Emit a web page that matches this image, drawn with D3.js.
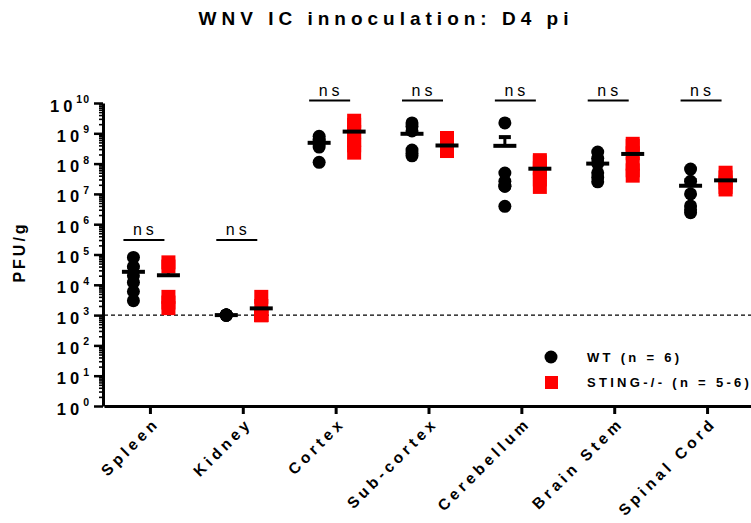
<!DOCTYPE html>
<html>
<head>
<meta charset="utf-8">
<script src="https://cdn.jsdelivr.net/npm/d3@7"></script>
<style>
  html, body { margin: 0; padding: 0; background: #fff; }
  svg { display: block; font-family: "Liberation Sans", Arial, sans-serif; }
</style>
</head>
<body>
<svg id="chart" width="751" height="523"></svg>
<script>
// Tissues sampled
const tissues = ["Spleen", "Kidney", "Cortex", "Sub-cortex", "Cerebellum", "Brain Stem", "Spinal Cord"];

// PFU/g per animal, wild type (n = 6)
const wtValues = [
  [8e4, 4e4, 2e4, 1.2e4, 6e3, 3e3],
  [1e3, 1e3, 1e3, 1e3, 1e3, 1e3],
  [8e8, 6.5e8, 5.5e8, 4.5e8, 3.5e8, 1.1e8],
  [2.2e9, 1.7e9, 1.2e9, 2.8e8, 2.2e8, 1.8e8],
  [2.2e9, 4.9e7, 2.6e7, 1.8e7, 1.8e7, 3.9e6],
  [2.4e8, 1.5e8, 1e8, 5e7, 3.5e7, 2.5e7],
  [6.6e7, 2.6e7, 1e7, 4e6, 3e6, 2.4e6]
];

// PFU/g per animal, STING-/- (n = 5-6)
const stingValues = [
  [5.5e4, 4e4, 4e3, 2.6e3, 1.7e3],
  [4e3, 2e3, 1e3, 1e3, 1e3, 1e3],
  [2.6e9, 1.9e9, 1.1e9, 6e8, 4e8, 2.3e8],
  [7e8, 4.2e8, 3.2e8, 2.8e8, 2.6e8],
  [1.3e8, 1.1e8, 7e7, 5e7, 3e7, 1.7e7],
  [4.5e8, 3.8e8, 2.2e8, 1e8, 6e7, 4e7],
  [5e7, 3.5e7, 2.4e7, 1.7e7, 1.4e7]
];

// Comparison brackets: level (PFU/g) and label
const sigLevels = [3e5, 3e5, 1.2e10, 1.2e10, 1.2e10, 1.2e10, 1.2e10];
const sigLabels = ["ns", "ns", "ns", "ns", "ns", "ns", "ns"];

// Limit of detection
const detectionLimit = 1e3;

// Axis ticks
const yExponents = [0, 1, 2, 3, 4, 5, 6, 7, 8, 9, 10];

const seriesNames = ["WT (n = 6)", "STING-/- (n = 5-6)"];
const titleText = "WNV IC innoculation: D4 pi";
const yLabel = "PFU/g";

const svg = d3.select("#chart");

const x = d3.scaleBand().domain(tissues).range([104, 754]);
const y = d3.scaleLog().domain([1, 1e10]).range([406, 103]);
const offset = { wt: -17, sting: 18 };
const cx = (t) => x(t) + x.bandwidth() / 2;

// Title
svg.append("text")
  .attr("x", 386).attr("y", 25)
  .attr("text-anchor", "middle")
  .attr("font-size", 19).attr("font-weight", "bold")
  .attr("letter-spacing", 5)
  .text(titleText);

// Y axis label
svg.append("text")
  .attr("transform", "translate(25,252) rotate(-90)")
  .attr("text-anchor", "middle")
  .attr("font-size", 16).attr("font-weight", "bold")
  .attr("letter-spacing", 3)
  .text(yLabel);

// Minor log ticks
const minorTicks = [];
for (let e = 0; e < 10; e++) for (let m = 2; m <= 9; m++) minorTicks.push(m * Math.pow(10, e));
svg.append("g")
  .attr("transform", "translate(103,0)")
  .call(d3.axisLeft(y).tickValues(minorTicks).tickSize(4).tickFormat(""))
  .call(g => g.select(".domain").remove())
  .call(g => g.selectAll("line").attr("stroke-width", 1.6));

// Major ticks and labels
const yAxis = svg.append("g")
  .attr("transform", "translate(103,0)")
  .call(d3.axisLeft(y).tickValues(yExponents.map(e => Math.pow(10, e))).tickSize(9).tickSizeOuter(0).tickFormat(""));
yAxis.select(".domain").attr("stroke-width", 3);
yAxis.selectAll(".tick line").attr("stroke-width", 2.5);
yAxis.selectAll(".tick text").remove();
yAxis.selectAll(".tick").each(function (d) {
  const e = Math.round(Math.log10(d));
  const t = d3.select(this).append("text")
    .attr("x", -13).attr("y", 8)
    .attr("text-anchor", "end")
    .attr("fill", "#000")
    .attr("font-size", 16.5).attr("font-weight", "bold")
    .attr("font-family", "Liberation Sans, Arial, sans-serif");
  t.append("tspan").attr("letter-spacing", 4).text("10");
  t.append("tspan").attr("font-size", 10.5).attr("dy", -8.5).attr("letter-spacing", 1).text(String(e));
});

// X axis
const xAxis = svg.append("g")
  .attr("transform", "translate(0,406)")
  .call(d3.axisBottom(x).tickSize(8).tickSizeOuter(0).tickFormat(""));
xAxis.select(".domain").attr("stroke-width", 3);
xAxis.selectAll(".tick line").attr("stroke-width", 3);
xAxis.selectAll(".tick").append("text")
  .attr("transform", "translate(10,18) rotate(-45)")
  .attr("text-anchor", "end")
  .attr("fill", "#000")
  .attr("font-size", 15.5).attr("font-weight", "bold")
  .attr("letter-spacing", 4)
  .attr("font-family", "Liberation Sans, Arial, sans-serif")
  .text(d => d);

// Detection limit
svg.append("line")
  .attr("x1", 104).attr("x2", 751)
  .attr("y1", y(detectionLimit)).attr("y2", y(detectionLimit))
  .attr("stroke", "#000").attr("stroke-width", 1.3)
  .attr("stroke-dasharray", "4,3");

function stats(vals) {
  const m = d3.mean(vals);
  const sem = vals.length > 1 ? d3.deviation(vals) / Math.sqrt(vals.length) : 0;
  return { mean: m, sem: sem };
}

const groups = [];
tissues.forEach((t, i) => {
  groups.push({ tissue: t, kind: "wt", vals: wtValues[i], ...stats(wtValues[i]) });
  groups.push({ tissue: t, kind: "sting", vals: stingValues[i], ...stats(stingValues[i]) });
});

// SEM bars (upper only), drawn beneath the points
const errG = svg.append("g");
groups.forEach(g => {
  const gx = cx(g.tissue) + offset[g.kind];
  const top = y(g.mean + g.sem);
  if (g.sem <= 0) return;
  errG.append("line")
    .attr("x1", gx).attr("x2", gx)
    .attr("y1", y(g.mean)).attr("y2", top)
    .attr("stroke", "#000").attr("stroke-width", 3);
  errG.append("line")
    .attr("x1", gx - 6).attr("x2", gx + 6)
    .attr("y1", top).attr("y2", top)
    .attr("stroke", "#000").attr("stroke-width", 4);
});

// Points
const ptG = svg.append("g");
groups.forEach(g => {
  const gx = cx(g.tissue) + offset[g.kind];
  if (g.kind === "wt") {
    ptG.selectAll(null).data(g.vals).enter().append("circle")
      .attr("cx", gx).attr("cy", d => y(d)).attr("r", 6.5)
      .attr("fill", "#000");
  } else {
    ptG.selectAll(null).data(g.vals).enter().append("rect")
      .attr("x", gx - 7).attr("y", d => y(d) - 7)
      .attr("width", 14).attr("height", 14)
      .attr("fill", "#ff0000");
  }
});

// Mean lines
const meanG = svg.append("g");
groups.forEach(g => {
  const gx = cx(g.tissue) + offset[g.kind];
  meanG.append("line")
    .attr("x1", gx - 11.5).attr("x2", gx + 11.5)
    .attr("y1", y(g.mean)).attr("y2", y(g.mean))
    .attr("stroke", "#000").attr("stroke-width", 4);
});

// Significance brackets
const sigG = svg.append("g");
tissues.forEach((t, i) => {
  const c = cx(t);
  const yy = y(sigLevels[i]);
  sigG.append("line")
    .attr("x1", c - 27).attr("x2", c + 14)
    .attr("y1", yy).attr("y2", yy)
    .attr("stroke", "#000").attr("stroke-width", 2);
  sigG.append("text")
    .attr("x", c - 5).attr("y", yy - 5)
    .attr("text-anchor", "middle")
    .attr("font-size", 16)
    .attr("letter-spacing", 4)
    .text(sigLabels[i]);
});

// Legend
const leg = svg.append("g").attr("font-size", 13).attr("font-weight", "bold").attr("letter-spacing", 3.3);
leg.append("circle").attr("cx", 551).attr("cy", 357).attr("r", 6.5).attr("fill", "#000");
leg.append("text").attr("x", 587).attr("y", 362).text(seriesNames[0]);
leg.append("rect").attr("x", 545).attr("y", 376).attr("width", 13).attr("height", 13).attr("fill", "#ff0000");
leg.append("text").attr("x", 587).attr("y", 387).text(seriesNames[1]);
</script>
</body>
</html>
